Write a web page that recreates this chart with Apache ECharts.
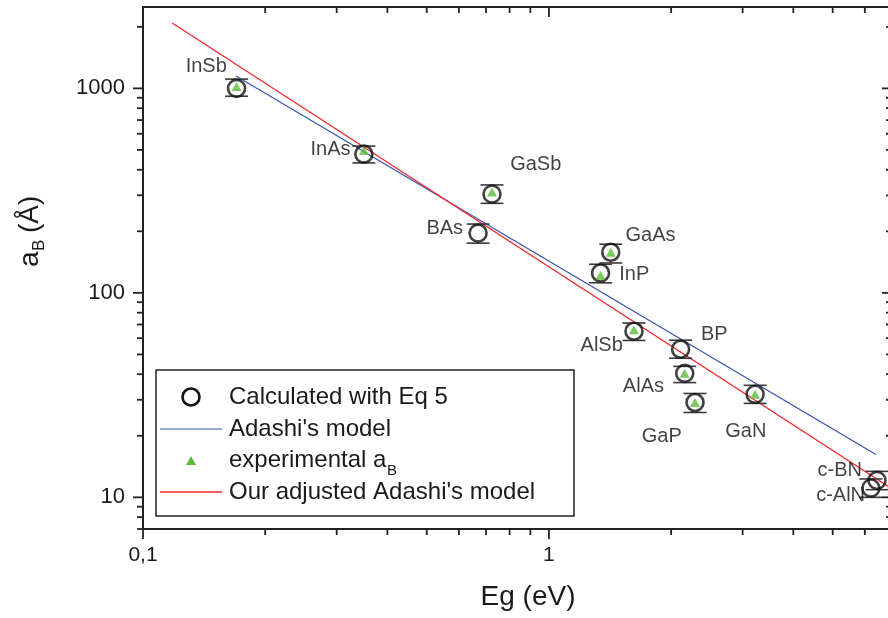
<!DOCTYPE html>
<html>
<head>
<meta charset="utf-8">
<script src="https://cdn.jsdelivr.net/npm/echarts@6/dist/echarts.min.js"></script>
<style>
html,body{margin:0;padding:0;background:#fff;}
#chart{width:888px;height:618px;}
</style>
</head>
<body>
<div id="chart"></div>
<script>
// ---------- data ----------
const categories = ['InSb','InAs','GaSb','BAs','GaAs','InP','AlSb','BP','AlAs','GaP','GaN','c-BN','c-AlN'];
const bandGap    = [0.17, 0.35, 0.724, 0.669, 1.42, 1.34, 1.62, 2.11, 2.16, 2.29, 3.22, 6.43, 6.21];
const calcAB     = [1000, 477, 304, 196, 158, 125, 64.9, 53.0, 40.4, 29.1, 31.9, 12.1, 11.1];
const errLow     = [915, 432, 274, 175, 140, 112, 58.5, 47.9, 36.4, 26.0, 28.8, 10.9, 10.0];
const errHigh    = [1110, 522, 337, 217, 173, 138, 71.2, 58.7, 43.7, 32.2, 35.3, 13.4, 12.3];

const expNames = ['InSb','InAs','GaSb','GaAs','InP','AlSb','AlAs','GaP','GaN'];
const expGap   = [0.17, 0.35, 0.724, 1.42, 1.34, 1.62, 2.16, 2.29, 3.22];
const expAB    = [1020, 497, 311, 158, 122, 66, 40.4, 29.1, 31.9];

const adashiX   = [0.1695, 6.39];
const adashiY   = [1149, 16.2];
const adjustedX = [0.118, 7];
const adjustedY = [2087, 11.0];

const xMajorTicks = [0.1, 1];
const xTickLabels = ['0,1', '1'];
const xMinorTicks = [0.2,0.3,0.4,0.5,0.6,0.7,0.8,0.9,2,3,4,5,6];
const yMajorTicks = [10, 100, 1000];
const yTickLabels = ['10', '100', '1000'];
const yMinorTicks = [7,8,9,20,30,40,50,60,70,80,90,200,300,400,500,600,700,800,900,2000];

const legendLabels = ['Calculated with Eq 5', "Adashi's model", 'experimental a', "Our adjusted Adashi's model"];

// ---------- styling / layout config ----------
const FONT = '"Liberation Sans", Arial, Helvetica, sans-serif';
const X_MIN = 0.1, X_MAX = 7, Y_MIN = 7, Y_MAX = 2500;
const SYM = 17;
const labelOffsets = {
  'InSb':[-29,-21], 'InAs':[-32,-3], 'GaSb':[45,-28], 'BAs':[-32,-3], 'GaAs':[41,-15],
  'InP':[35,3], 'AlSb':[-31,16], 'BP':[35,-13], 'AlAs':[-40,14], 'GaP':[-32,35],
  'GaN':[-8,38], 'c-BN':[-36,-9], 'c-AlN':[-29,9]
};

function findLabel(v, vals, labels) {
  for (let i = 0; i < vals.length; i++) {
    if (Math.abs(Math.log10(v) - Math.log10(vals[i])) < 1e-6) return labels[i];
  }
  return '';
}

const chart = echarts.init(document.getElementById('chart'), null, {renderer: 'canvas'});

const circleData = categories.map((n, i) => ({
  name: n, value: [bandGap[i], calcAB[i]],
  label: {
    position: [SYM / 2 + labelOffsets[n][0], SYM / 2 + labelOffsets[n][1]],
    align: 'center', verticalAlign: 'middle'
  }
}));
const triData = expNames.map((n, i) => ({ name: n, value: [expGap[i], expAB[i]] }));
const errData = categories.map((n, i) => [bandGap[i], calcAB[i], errLow[i], errHigh[i]]);

const tickData = [];
xMajorTicks.forEach(v => tickData.push([v, Y_MIN, 0, 1]));
xMinorTicks.forEach(v => tickData.push([v, Y_MIN, 0, 0]));
yMajorTicks.forEach(v => tickData.push([X_MIN, v, 1, 1]));
yMinorTicks.forEach(v => tickData.push([X_MIN, v, 1, 0]));

const TICK_COLOR = '#222';

const option = {
  animation: false,
  backgroundColor: '#fff',
  textStyle: { fontFamily: FONT },
  grid: {
    left: 143, top: 7, right: -4, bottom: 89,
    containLabel: false, outerBoundsMode: 'none',
    show: true, borderColor: '#222', borderWidth: 2, backgroundColor: 'transparent'
  },
  xAxis: {
    type: 'log', logBase: 10, min: X_MIN, max: X_MAX,
    axisLine: { show: false }, axisTick: { show: false }, splitLine: { show: false },
    minorTick: { show: false }, minorSplitLine: { show: false },
    axisLabel: {
      show: true, margin: 16, color: '#1a1a1a', fontSize: 21, fontFamily: FONT,
      formatter: v => findLabel(v, xMajorTicks, xTickLabels)
    }
  },
  yAxis: {
    type: 'log', logBase: 10, min: Y_MIN, max: Y_MAX,
    axisLine: { show: false }, axisTick: { show: false }, splitLine: { show: false },
    minorTick: { show: false }, minorSplitLine: { show: false },
    axisLabel: {
      show: true, margin: 18, color: '#1a1a1a', fontSize: 22, fontFamily: FONT,
      formatter: v => findLabel(v, yMajorTicks, yTickLabels)
    }
  },
  series: [
    {
      name: "Adashi's model", type: 'line', silent: true,
      data: adashiX.map((x, i) => [x, adashiY[i]]),
      showSymbol: false, symbol: 'none',
      lineStyle: { color: '#3552ad', width: 1.2 }, z: 2
    },
    {
      name: "Our adjusted Adashi's model", type: 'line', silent: true,
      data: adjustedX.map((x, i) => [x, adjustedY[i]]),
      showSymbol: false, symbol: 'none',
      lineStyle: { color: '#f2262b', width: 1.3 }, z: 2
    },
    {
      name: 'errors', type: 'custom', silent: true, clip: false, z: 3,
      data: errData,
      renderItem: function (params, api) {
        const c = api.coord([api.value(0), api.value(1)]);
        const pl = api.coord([api.value(0), api.value(2)]);
        const ph = api.coord([api.value(0), api.value(3)]);
        const w = 11.5, r = 9.5;
        const st = { stroke: '#3a3a3a', lineWidth: 1.6 };
        const ch = [
          { type: 'line', shape: { x1: c[0]-w, y1: ph[1], x2: c[0]+w, y2: ph[1] }, style: st },
          { type: 'line', shape: { x1: c[0]-w, y1: pl[1], x2: c[0]+w, y2: pl[1] }, style: st }
        ];
        if (ph[1] < c[1] - r) ch.push({ type: 'line', shape: { x1: c[0], y1: ph[1], x2: c[0], y2: c[1]-r }, style: st });
        if (pl[1] > c[1] + r) ch.push({ type: 'line', shape: { x1: c[0], y1: c[1]+r, x2: c[0], y2: pl[1] }, style: st });
        return { type: 'group', children: ch };
      }
    },
    {
      name: 'Calculated with Eq 5', type: 'scatter', silent: true, z: 4,
      data: circleData,
      symbol: 'circle', symbolSize: SYM,
      itemStyle: { color: 'rgba(0,0,0,0)', borderColor: '#111', borderWidth: 2.6 },
      label: {
        show: true, formatter: '{b}',
        color: '#111', fontSize: 20, fontFamily: FONT,
        textBorderWidth: 0, textShadowBlur: 0
      },
      labelLayout: { hideOverlap: false }
    },
    {
      name: 'experimental aB', type: 'scatter', silent: true, z: 5,
      data: triData,
      symbol: 'triangle', symbolSize: [10, 9],
      itemStyle: { color: '#5cbb3a' }
    },
    {
      name: 'ticks', type: 'custom', silent: true, clip: false, z: 6,
      data: tickData,
      renderItem: function (params, api) {
        const cs = params.coordSys;
        const p = api.coord([api.value(0), api.value(1)]);
        const L = api.value(3) ? 10 : 6;
        const st = { stroke: TICK_COLOR, lineWidth: 1.8 };
        let ch;
        if (api.value(2) === 0) {
          const yb = cs.y + cs.height, yt = cs.y;
          ch = [
            { type: 'line', shape: { x1: p[0], y1: yb, x2: p[0], y2: yb + L }, style: st },
            { type: 'line', shape: { x1: p[0], y1: yt, x2: p[0], y2: yt + L }, style: st }
          ];
        } else {
          const xl = cs.x, xr = cs.x + cs.width;
          ch = [
            { type: 'line', shape: { x1: xl, y1: p[1], x2: xl - L, y2: p[1] }, style: st },
            { type: 'line', shape: { x1: xr, y1: p[1], x2: xr - L, y2: p[1] }, style: st }
          ];
        }
        return { type: 'group', children: ch };
      }
    }
  ],
  graphic: [
    {
      type: 'text', x: 528, y: 597, silent: true,
      style: { text: 'Eg (eV)', font: '28px ' + FONT, fill: '#1a1a1a', textAlign: 'center', textVerticalAlign: 'middle' }
    },
    {
      type: 'group', x: 30, y: 230, rotation: Math.PI / 2, silent: true,
      children: [
        { type: 'text', x: -37, y: 0, style: { text: 'a', font: '28px ' + FONT, fill: '#1a1a1a', textAlign: 'left', textVerticalAlign: 'middle' } },
        { type: 'text', x: -21, y: 9, style: { text: 'B', font: '17px ' + FONT, fill: '#1a1a1a', textAlign: 'left', textVerticalAlign: 'middle' } },
        { type: 'text', x: -3, y: 0, style: { text: '(Å)', font: '28px ' + FONT, fill: '#1a1a1a', textAlign: 'left', textVerticalAlign: 'middle' } }
      ]
    },
    {
      type: 'group', silent: true, z: 100,
      children: [
        { type: 'rect', shape: { x: 156, y: 370, width: 418, height: 146 }, style: { fill: '#fff', stroke: '#222', lineWidth: 1.5 } },
        { type: 'circle', shape: { cx: 191, cy: 397, r: 8.5 }, style: { fill: null, stroke: '#111', lineWidth: 2.6 } },
        { type: 'text', x: 229, y: 397, style: { text: legendLabels[0], font: '24px ' + FONT, fill: '#1a1a1a', textVerticalAlign: 'middle' } },
        { type: 'line', shape: { x1: 160, y1: 429, x2: 222, y2: 429 }, style: { stroke: '#3552ad', lineWidth: 1.2 } },
        { type: 'text', x: 229, y: 429, style: { text: legendLabels[1], font: '24px ' + FONT, fill: '#1a1a1a', textVerticalAlign: 'middle' } },
        { type: 'polygon', shape: { points: [[186, 465], [196, 465], [191, 456]] }, style: { fill: '#5cbb3a' } },
        { type: 'text', x: 229, y: 460, style: { text: legendLabels[2], font: '24px ' + FONT, fill: '#1a1a1a', textVerticalAlign: 'middle' } },
        { type: 'text', x: 387, y: 471, style: { text: 'B', font: '15px ' + FONT, fill: '#1a1a1a', textVerticalAlign: 'middle' } },
        { type: 'line', shape: { x1: 160, y1: 492, x2: 222, y2: 492 }, style: { stroke: '#f2262b', lineWidth: 1.3 } },
        { type: 'text', x: 229, y: 492, style: { text: legendLabels[3], font: '24px ' + FONT, fill: '#1a1a1a', textVerticalAlign: 'middle' } }
      ]
    }
  ]
};

chart.setOption(option);
</script>
</body>
</html>
